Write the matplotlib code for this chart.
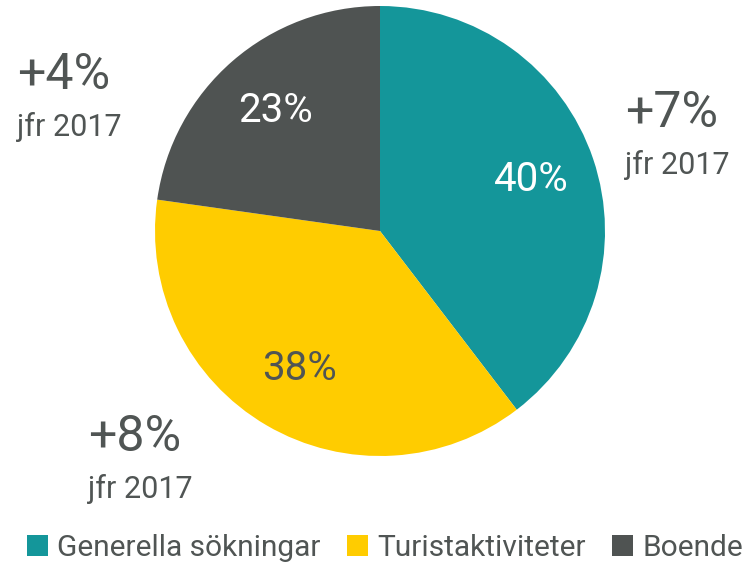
import matplotlib
matplotlib.use('Agg')
import matplotlib.pyplot as plt
from matplotlib.patches import Patch

plt.rcParams['font.family'] = ['Roboto', 'DejaVu Sans']

# 数据
categories = ['Generella sökningar', 'Turistaktiviteter', 'Boende']
shares = [40, 38, 23]
changes = ['+7%', '+8%', '+4%']
change_note = 'jfr 2017'
colors = ['#14969A', '#FFCC00', '#4F5352']
pct_colors = ['white', '#505554', 'white']
text_gray = '#505554'

fig = plt.figure(figsize=(7.51, 5.67), dpi=100)
ax = fig.add_axes([155 / 751, 111 / 567, 450 / 751, 450 / 567])

wedges, texts, autotexts = ax.pie(
    shares, colors=colors, startangle=90, counterclock=False,
    autopct=lambda p: f'{round(p):d}%', pctdistance=0.71,
    wedgeprops=dict(linewidth=0))
for t, c in zip(autotexts, pct_colors):
    t.set_color(c)
    t.set_fontsize(29)
ax.set_xlim(-1, 1)
ax.set_ylim(-1, 1)
ax.set_aspect('equal')

# 变化标注 (figure pixels -> fraction)
positions = [(625, 113), (88, 437), (17, 75)]
for (x, y), ch in zip(positions, changes):
    fig.text(x / 751, 1 - y / 567, ch, fontsize=36, color=text_gray,
             ha='left', va='center')
    fig.text(x / 751, 1 - (y + 52) / 567, change_note, fontsize=22,
             color=text_gray, ha='left', va='center')

handles = [Patch(facecolor=c, edgecolor='none') for c in colors]
fig.legend(handles, categories, loc='center', bbox_to_anchor=(385 / 751, 1 - 548 / 567),
           ncol=3, frameon=False, fontsize=21.5, handlelength=0.7, handleheight=0.7,
           handletextpad=0.3, columnspacing=0.9, labelcolor=text_gray)

fig.savefig('out.png', dpi=100)
